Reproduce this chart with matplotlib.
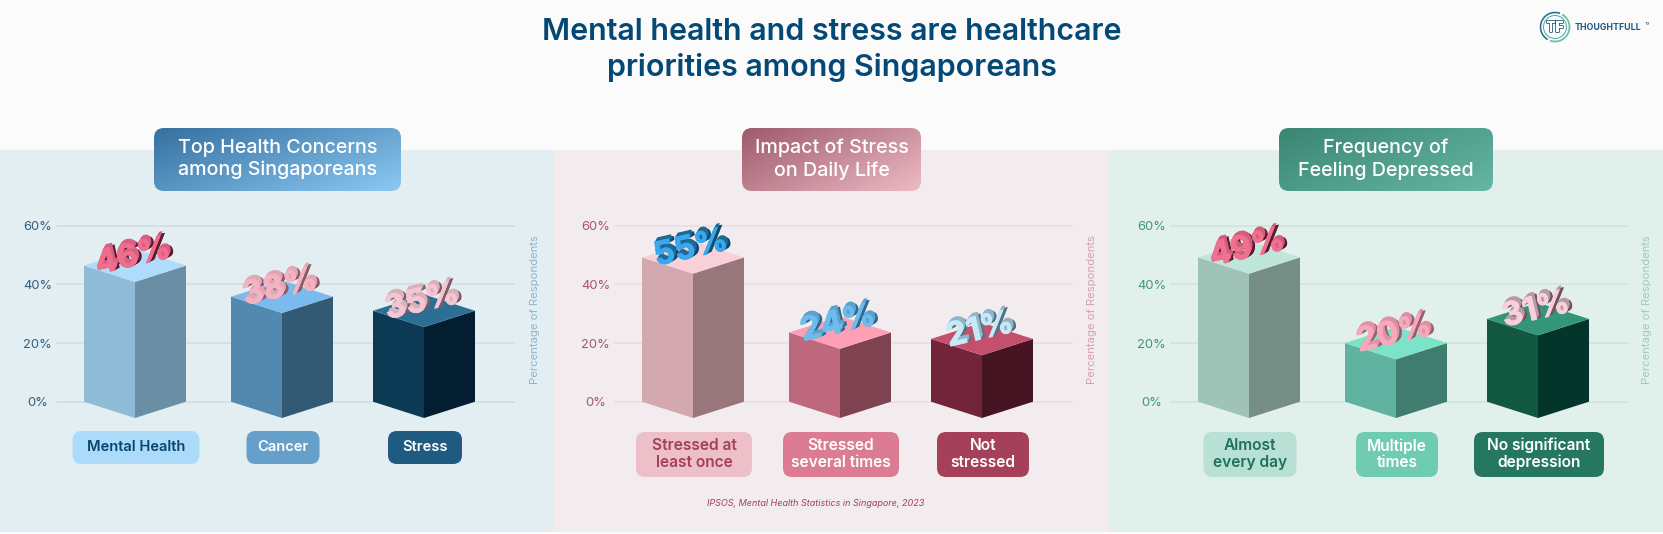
"""Singapore mental health infographic, three pseudo-3D bar panels."""
import matplotlib
matplotlib.use('Agg')
import matplotlib.pyplot as plt
import matplotlib.patheffects as pe
import numpy as np
from matplotlib.colors import LinearSegmentedColormap
from matplotlib.patches import FancyBboxPatch, Arc, Circle

plt.rcParams['font.family'] = ['Inter', 'DejaVu Sans']

W, H = 1663, 534

# data
panel_titles = ['Top Health Concerns\namong Singaporeans', 'Impact of Stress\non Daily Life',
                'Frequency of\nFeeling Depressed']
categories_1 = ['Mental Health', 'Cancer', 'Stress']
categories_2 = ['Stressed at\nleast once', 'Stressed\nseveral times', 'Not\nstressed']
categories_3 = ['Almost\nevery day', 'Multiple\ntimes', 'No significant\ndepression']
# printed labels and the drawn bar heights do not agree in the original
labels_1 = [46, 38, 35]
labels_2 = [55, 24, 21]
labels_3 = [49, 20, 31]
heights_1 = [46.4, 35.8, 31]
heights_2 = [49.2, 23.6, 21.4]
heights_3 = [49.2, 20, 28.2]
y_ticks = [0, 20, 40, 60]

# colours per bar: left face, right face, top face
faces_1 = [('#8FBBD6', '#6A8FA5', '#AEDCFA'), ('#5388AF', '#335A75', '#7ABAEE'), ('#0C3A54', '#021E30', '#2D6F94')]
faces_2 = [('#D3A8AF', '#97777B', '#F8D0D8'), ('#BD687C', '#7E4250', '#FD9FB5'), ('#72243A', '#471423', '#C5506D')]
faces_3 = [('#A0C3B8', '#768F86', '#BEE6DA'), ('#5FB3A0', '#417D6E', '#7BE3C8'), ('#125740', '#04352A', '#33957A')]
# label face, top of extrusion, right of extrusion
label_cols_1 = [('#EE6E8E', '#D85F7F', '#5C1A30'), ('#F5B3C2', '#E3A5B3', '#8A5A68'), ('#F4C6D2', '#D9B0BC', '#7D5D68')]
label_cols_2 = [('#3AA8EC', '#1D6A96', '#0F4A6E'), ('#6FBCEC', '#5AA2CE', '#2F6A90'), ('#C8E8F8', '#8FB5C6', '#4F7585')]
label_cols_3 = [('#F0708F', '#D35C7B', '#5C1A30'), ('#F6A8BC', '#E090A4', '#95606F'), ('#F8CFDA', '#B89AA4', '#6E5560')]
# chip fill, chip text
chips_1 = [('#ABDBF9', '#05456F'), ('#66A0CA', 'white'), ('#1F5B80', 'white')]
chips_2 = [('#EDBFC8', '#A63F5B'), ('#DB7C92', 'white'), ('#A53F5A', 'white')]
chips_3 = [('#B8E0D4', '#1F7159'), ('#6FCBB2', 'white'), ('#25775F', 'white')]

# layout, pixels
bar_x = [78, 225, 367]
half_w = 51
depth = 5.56
chip_w_1 = [127, 73, 74]
chip_w_2 = [116, 116, 92]
chip_w_3 = [93, 82, 130]


def rounded(ax, x0, y0, x1, y1, color, r=9, **kw):
    patch = FancyBboxPatch((x0 + r, y0 + r), x1 - x0 - 2 * r, y1 - y0 - 2 * r,
                           boxstyle=f'round,pad={r},rounding_size={r}', fc=color, ec='none', **kw)
    ax.add_patch(patch)
    return patch


def gradient_box(ax, x0, y0, x1, y1, c0, c1, text):
    patch = rounded(ax, x0, y0, x1, y1, 'none', r=10, zorder=3)
    xx, yy = np.meshgrid(np.linspace(0, 1, 200), np.linspace(0, 1, 60))
    cmap = LinearSegmentedColormap.from_list('g', [c0, c1])
    im = ax.imshow((xx * 0.6 + yy * 0.4), cmap=cmap, extent=(x0, x1, y1, y0), aspect='auto', zorder=2.5, origin='upper')
    im.set_clip_path(patch)
    ax.text((x0 + x1) / 2, (y0 + y1) / 2 - 0.5, text, color='white', fontsize=14.2, fontweight='medium',
            ha='center', va='center', linespacing=1.3, zorder=4)


def draw_bar(ax, x, h, cols):
    left, right, top = cols
    ax.fill([x - half_w, x, x, x - half_w], [0, -depth, h - depth, h], color=left, lw=0, clip_on=False, zorder=3)
    ax.fill([x, x + half_w, x + half_w, x], [-depth, 0, h, h - depth], color=right, lw=0, clip_on=False, zorder=3)
    ax.fill([x - half_w, x, x + half_w, x], [h, h - depth, h, h + depth], color=top, lw=0, clip_on=False, zorder=3)


def draw_label(ax, x, h, value, cols):
    face, side, deep = cols
    effects = []
    for k in np.linspace(3.6, 0.5, 7):
        effects.append(pe.SimplePatchShadow(offset=(k, k * 0.55), shadow_rgbFace=deep, alpha=1))
    for k in np.linspace(3.2, 0.5, 7):
        effects.append(pe.SimplePatchShadow(offset=(k * 0.55, k), shadow_rgbFace=side, alpha=1))
    effects.append(pe.withStroke(linewidth=0.6, foreground=face))
    ax.text(x - 2, h + 2.8, f'{value}%', color=face, fontsize=23.5, fontweight='bold', rotation=13,
            ha='center', va='center', rotation_mode='anchor', zorder=6, path_effects=effects, clip_on=False)


fig = plt.figure(figsize=(W / 100, H / 100), dpi=100, facecolor='#FBFBFB')
bg = fig.add_axes([0, 0, 1, 1])
bg.set_axis_off()

panels = [
    dict(x0=0, x1=554, ax_left=57, bg='#E3EEF3', grid='#CFDFE6', tick='#2D5F82', ylab='#8FB4CA', ylab_x=535,
         box=(154, 401), g0='#35709F', g1='#8CC8F3', cats=categories_1, labels=labels_1, heights=heights_1,
         faces=faces_1, lab=label_cols_1, chips=chips_1, chip_w=chip_w_1, chip_y=(431, 464), chip_fs=10.6),
    dict(x0=554, x1=1109, ax_left=615, bg='#F2ECEF', grid='#EBDCE2', tick='#A6566E', ylab='#D5A0AE', ylab_x=1092,
         box=(742, 921), g0='#9E5A6C', g1='#EDBAC5', cats=categories_2, labels=labels_2, heights=heights_2,
         faces=faces_2, lab=label_cols_2, chips=chips_2, chip_w=chip_w_2, chip_y=(432, 477), chip_fs=11.2),
    dict(x0=1109, x1=1663, ax_left=1171, bg='#E2F0EB', grid='#CFE5DE', tick='#3F9680', ylab='#9CCBBE', ylab_x=1647,
         box=(1279, 1493), g0='#3A8673', g1='#66B6A4', cats=categories_3, labels=labels_3, heights=heights_3,
         faces=faces_3, lab=label_cols_3, chips=chips_3, chip_w=chip_w_3, chip_y=(432, 477), chip_fs=11.2),
]

for i, p in enumerate(panels):
    bg.fill_between([p['x0'], p['x1']], 150, 532, color=p['bg'], lw=0, zorder=1)
bg.set_xlim(0, W)
bg.set_ylim(H, 0)

for i, p in enumerate(panels):
    gradient_box(bg, p['box'][0], 128, p['box'][1], 191, p['g0'], p['g1'], panel_titles[i])

    ax = fig.add_axes([p['ax_left'] / W, 1 - 401.7 / H, 457 / W, 176 / H])
    ax.patch.set_alpha(0)
    ax.set_xlim(0, 457)
    ax.set_ylim(0, 60)
    for s in ax.spines.values():
        s.set_visible(False)
    ax.set_xticks([])
    ax.set_yticks(y_ticks)
    ax.set_yticklabels([f'{t}%' for t in y_ticks], color=p['tick'], fontsize=9.3, ha='center')
    ax.tick_params(axis='y', length=0, pad=14)
    ax.grid(True, axis='y', color=p['grid'], lw=1.2)
    ax.set_axisbelow(True)
    for gl in ax.get_ygridlines():
        gl.set_clip_on(False)

    for x, h, v, f, l in zip(bar_x, p['heights'], p['labels'], p['faces'], p['lab']):
        draw_bar(ax, x, h, f)
        draw_label(ax, x, h, v, l)

    for x, cat, chip, w in zip(bar_x, p['cats'], p['chips'], p['chip_w']):
        cx = p['ax_left'] + x + 1
        y0, y1 = p['chip_y']
        rounded(bg, cx - w / 2, y0, cx + w / 2, y1, chip[0], r=9, zorder=2)
        bg.text(cx, (y0 + y1) / 2 - 0.5, cat, color=chip[1], fontsize=p['chip_fs'], fontweight='semibold',
                ha='center', va='center', linespacing=1.12, zorder=3)

    bg.text(p['ylab_x'], 310, 'Percentage of Respondents', color=p['ylab'], fontsize=8.1, rotation=90,
            ha='center', va='center', zorder=3)

bg.text(832, 32, 'Mental health and stress are healthcare', color='#044875', fontsize=21.9, fontweight='semibold',
        ha='center', va='center')
bg.text(832, 68, 'priorities among Singaporeans', color='#044875', fontsize=21.9, fontweight='semibold',
        ha='center', va='center')
bg.text(816, 503, 'IPSOS, Mental Health Statistics in Singapore, 2023', color='#A63F5B', fontsize=6.5,
        style='italic', ha='center', va='center', zorder=3)

# logo
bg.add_patch(Circle((1555, 27), 11.5, fc='none', ec='#4FA79A', lw=0.7, zorder=3))
bg.add_patch(Arc((1555, 27), 29, 29, theta1=120, theta2=290, ec='#1F6A8A', lw=1.1, zorder=3))
bg.add_patch(Arc((1555, 27), 29, 29, theta1=-60, theta2=110, ec='#6FBFB0', lw=1.3, zorder=3))
bg.text(1555, 27.5, 'TF', color='white', fontsize=10, fontweight='bold', ha='center', va='center', zorder=4,
        path_effects=[pe.withStroke(linewidth=1.2, foreground='#1F5B80')])
bg.text(1575, 28, 'THOUGHTFULL', color='#1F5B80', fontsize=6.3, fontweight='bold', ha='left', va='center', zorder=3)
bg.text(1645, 24, 'TM', color='#1F5B80', fontsize=2.5, ha='left', va='center', zorder=3)

plt.savefig('out.png', dpi=100)
plt.close()
